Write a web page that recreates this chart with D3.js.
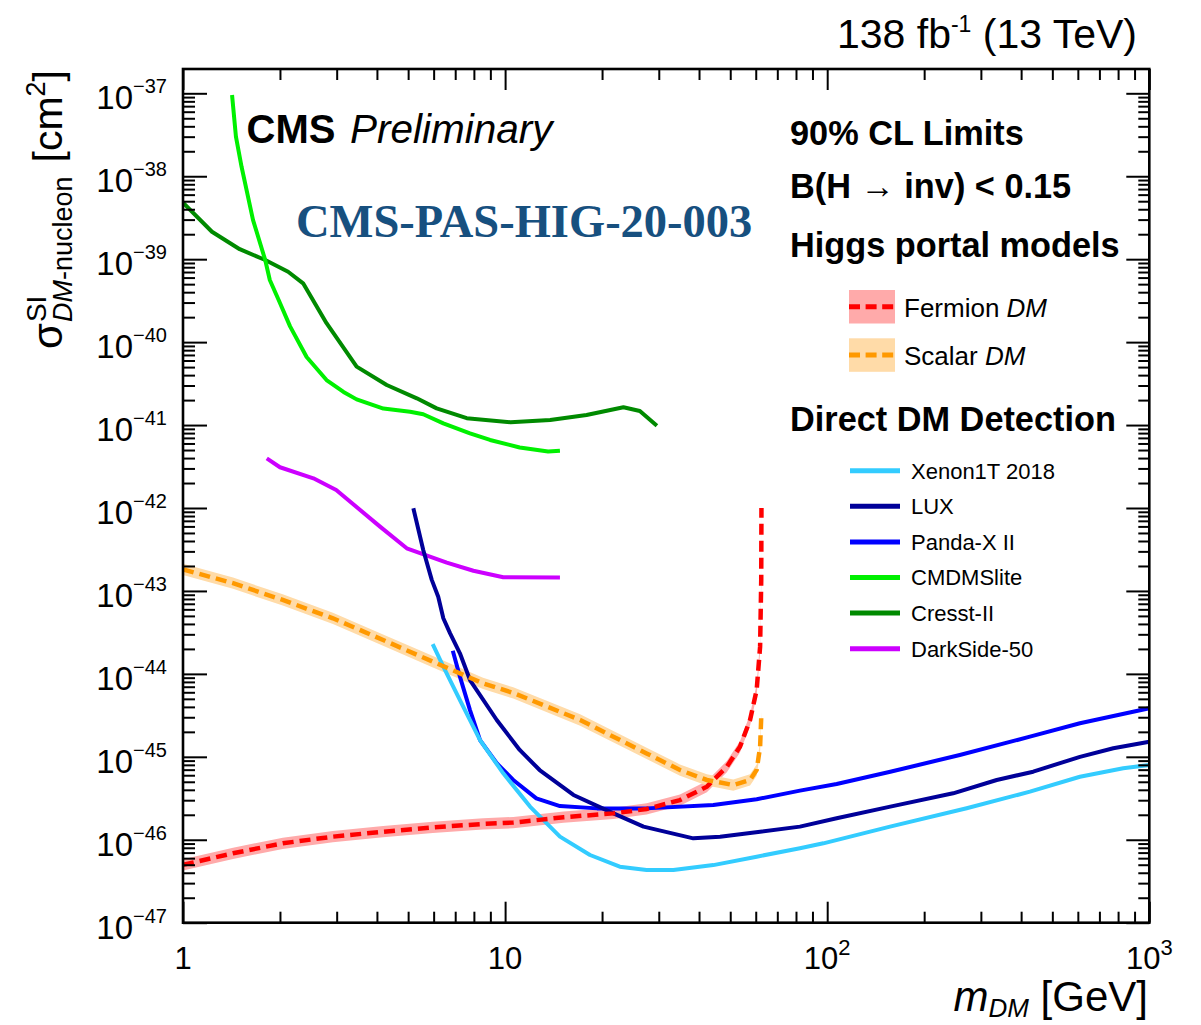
<!DOCTYPE html>
<html>
<head>
<meta charset="utf-8">
<script src="https://cdn.jsdelivr.net/npm/d3@7"></script>
<style>
  body { margin: 0; background: #fff; }
  svg { display: block; }
</style>
</head>
<body>
<svg id="chart" width="1201" height="1025"></svg>
<script>
// ---- Higgs portal limits (B(H->inv) < 0.15), spin-independent DM-nucleon cross section [cm^2]
const fermionMass  = [1.0, 1.43, 2.04, 2.92, 4.18, 5.97, 8.54, 10.6, 15.2, 21.7, 27.5, 34.9, 42.3, 48.8, 53.6, 57.6, 60.4, 61.9, 62.4, 62.5];
const fermionSigma = [4.99e-47, 6.87e-47, 9.06e-47, 1.09e-46, 1.25e-46, 1.41e-46, 1.55e-46, 1.61e-46, 1.87e-46, 2.08e-46, 2.35e-46, 3.01e-46, 4.37e-46, 7.6e-46, 1.32e-45, 2.78e-45, 6.4e-45, 2.13e-44, 1.36e-43, 1.0e-42];

const scalarMass  = [1.0, 1.43, 2.04, 2.92, 4.18, 5.97, 8.54, 10.6, 17.1, 27.5, 34.9, 42.3, 51.1, 57.6, 60.4, 61.9, 62.4];
const scalarSigma = [1.82e-43, 1.24e-43, 7.78e-44, 4.68e-44, 2.56e-44, 1.40e-44, 7.69e-45, 5.89e-45, 2.78e-45, 1.10e-45, 6.93e-46, 5.26e-46, 4.57e-46, 5.26e-46, 6.93e-46, 1.32e-45, 2.99e-45];

// ---- Direct detection limits
const xenonMass  = [5.96, 6.43, 7.24, 8.36, 9.87, 11.95, 14.8, 18.35, 22.7, 27.5, 33.3, 44.3, 60.4, 82.3, 97.3, 156.7, 271, 426, 609, 830, 1000];
const xenonSigma = [2.29e-44, 1.22e-44, 4.84e-45, 1.59e-45, 6.32e-46, 2.51e-46, 1.09e-46, 6.55e-47, 4.73e-47, 4.32e-47, 4.32e-47, 4.95e-47, 6.25e-47, 7.89e-47, 9.06e-47, 1.44e-46, 2.40e-46, 3.80e-46, 5.75e-46, 7.28e-46, 7.96e-46];

const luxMass  = [5.19, 5.57, 5.92, 6.2, 6.43, 6.75, 7.24, 7.78, 9.42, 11.1, 12.8, 16.3, 21.7, 26.9, 38.4, 46.5, 61.9, 82.3, 107, 157, 246, 336, 436, 609, 773, 1000];
const luxSigma = [9.91e-43, 3.12e-43, 1.36e-43, 8.53e-44, 4.68e-44, 3.08e-44, 1.77e-44, 8.43e-45, 2.78e-45, 1.21e-45, 6.93e-46, 3.47e-46, 2.08e-46, 1.44e-46, 1.04e-46, 1.09e-46, 1.25e-46, 1.44e-46, 1.82e-46, 2.51e-46, 3.63e-46, 5.25e-46, 6.62e-46, 1.0e-45, 1.27e-45, 1.52e-45];

const pandaMass  = [6.88, 7.24, 7.78, 8.36, 9.42, 10.6, 12.5, 14.8, 19.3, 27.5, 44.3, 60.4, 82.3, 107, 157, 258, 426, 609, 1000];
const pandaSigma = [1.90e-44, 9.25e-45, 3.66e-45, 1.59e-45, 8.36e-46, 5.26e-46, 3.16e-46, 2.55e-46, 2.39e-46, 2.39e-46, 2.62e-46, 3.08e-46, 3.91e-46, 4.70e-46, 6.62e-46, 1.05e-45, 1.75e-45, 2.54e-45, 3.85e-45];

const cdmsliteMass  = [1.42, 1.46, 1.52, 1.65, 1.80, 1.86, 1.98, 2.15, 2.42, 2.79, 3.15, 3.46, 4.19, 5.07, 5.57, 6.43, 7.78, 8.98, 11.1, 13.6, 14.8];
const cdmsliteSigma = [9.55e-38, 3.0e-38, 1.30e-38, 2.96e-39, 9.77e-40, 5.62e-40, 3.24e-40, 1.55e-40, 6.61e-41, 3.49e-41, 2.51e-41, 2.04e-41, 1.58e-41, 1.45e-41, 1.35e-41, 1.05e-41, 7.94e-42, 6.61e-42, 5.37e-42, 4.79e-42, 4.9e-42];

const cresstMass  = [1.0, 1.23, 1.50, 1.80, 2.12, 2.36, 2.79, 3.46, 4.29, 5.32, 6.13, 7.6, 10.4, 13.8, 17.9, 23.3, 26.2, 29.6];
const cresstSigma = [4.80e-39, 2.14e-39, 1.32e-39, 9.77e-40, 7.06e-40, 5.12e-40, 1.69e-40, 5.06e-41, 3.04e-41, 2.10e-41, 1.59e-41, 1.21e-41, 1.08e-41, 1.15e-41, 1.32e-41, 1.64e-41, 1.48e-41, 9.82e-42];

const darksideMass  = [1.82, 2.0, 2.54, 2.99, 4.09, 4.95, 6.59, 7.97, 9.87, 14.8];
const darksideSigma = [3.97e-42, 3.10e-42, 2.28e-42, 1.65e-42, 5.96e-43, 3.27e-43, 2.19e-43, 1.75e-43, 1.46e-43, 1.45e-43];

// ---- Legend names and axis ticks
const higgsPortalNames = ["Fermion", "Scalar"];
const directNames = ["Xenon1T 2018", "LUX", "Panda-X II", "CMDMSlite", "Cresst-II", "DarkSide-50"];
const xMajorTicks = [1, 10, 100, 1000];
const xTickLabels = [["1", ""], ["10", ""], ["10", "2"], ["10", "3"]];
const yMajorExponents = [-47, -46, -45, -44, -43, -42, -41, -40, -39, -38, -37];

// ---------------------------------------------------------------------------
const SANS = "'Liberation Sans', Arial, Helvetica, sans-serif";
const SERIF = "'Liberation Serif', 'Times New Roman', serif";

const svg = d3.select("#chart");
svg.append("rect").attr("width", 1201).attr("height", 1025).attr("fill", "#fff");

const frame = { left: 183, right: 1149.3, top: 69, bottom: 922.7 };
const x = d3.scaleLog().domain([1, 1000]).range([frame.left, frame.right]);
const y = d3.scaleLog().domain([1e-47, Math.pow(10, -36.707)]).range([frame.bottom, frame.top]);

const bandFactor = Math.pow(10, 0.068); // half-width of the theory band, in decades

const zip = (ms, ss) => ms.map((m, i) => ({ m, s: ss[i] }));

svg.append("defs").append("clipPath").attr("id", "plotclip")
  .append("rect")
  .attr("x", frame.left).attr("y", frame.top)
  .attr("width", frame.right - frame.left).attr("height", frame.bottom - frame.top);

const plot = svg.append("g").attr("clip-path", "url(#plotclip)");

const line = d3.line().x(d => x(d.m)).y(d => y(d.s));
const band = d3.area().x(d => x(d.m)).y0(d => y(d.s / bandFactor)).y1(d => y(d.s * bandFactor));

const portal = [
  { data: zip(fermionMass, fermionSigma), line: "#ff0000", band: "#ffaaaa" },
  { data: zip(scalarMass, scalarSigma),   line: "#ff9900", band: "#ffdba8" }
];

const direct = [
  { data: zip(xenonMass, xenonSigma),       color: "#33ccff" },
  { data: zip(luxMass, luxSigma),           color: "#000099" },
  { data: zip(pandaMass, pandaSigma),       color: "#0000ff" },
  { data: zip(cdmsliteMass, cdmsliteSigma), color: "#00f000" },
  { data: zip(cresstMass, cresstSigma),     color: "#008a00" },
  { data: zip(darksideMass, darksideSigma), color: "#cc00ff" }
];

// theory bands
portal.forEach(p => {
  plot.append("path").datum(p.data).attr("d", band).attr("fill", p.band);
});

// experimental limits (drawn from the last legend entry upward)
direct.slice().reverse().forEach(s => {
  plot.append("path").datum(s.data).attr("d", line)
    .attr("fill", "none").attr("stroke", s.color)
    .attr("stroke-width", 4).attr("stroke-linejoin", "round");
});

// Higgs portal central curves
portal.forEach(p => {
  plot.append("path").datum(p.data).attr("d", line)
    .attr("fill", "none").attr("stroke", p.line)
    .attr("stroke-width", 4.5).attr("stroke-dasharray", "11,6");
});

// ---- axes: ticks pointing inward on all four sides
const xMinor = [];
for (let k = 0; k < 3; k++) for (let d = 2; d <= 9; d++) xMinor.push(d * Math.pow(10, k));
const yMajor = yMajorExponents.map(e => Math.pow(10, e));
const yMinor = [];
for (let e = -47; e < -37; e++) for (let d = 2; d <= 9; d++) yMinor.push(d * Math.pow(10, e));

function drawAxis(axisGen, transform) {
  const g = svg.append("g").attr("transform", transform).call(axisGen);
  g.select(".domain").remove();
  g.selectAll(".tick line").attr("stroke", "#000").attr("stroke-width", 2);
  g.selectAll(".tick text").remove();
}
drawAxis(d3.axisBottom(x).tickValues(xMajorTicks).tickSize(-21).tickFormat(""), `translate(0,${frame.bottom})`);
drawAxis(d3.axisBottom(x).tickValues(xMinor).tickSize(-11).tickFormat(""), `translate(0,${frame.bottom})`);
drawAxis(d3.axisTop(x).tickValues(xMajorTicks).tickSize(-21).tickFormat(""), `translate(0,${frame.top})`);
drawAxis(d3.axisTop(x).tickValues(xMinor).tickSize(-11).tickFormat(""), `translate(0,${frame.top})`);
drawAxis(d3.axisLeft(y).tickValues(yMajor).tickSize(-24).tickFormat(""), `translate(${frame.left},0)`);
drawAxis(d3.axisLeft(y).tickValues(yMinor).tickSize(-12).tickFormat(""), `translate(${frame.left},0)`);
drawAxis(d3.axisRight(y).tickValues(yMajor).tickSize(-23).tickFormat(""), `translate(${frame.right},0)`);
drawAxis(d3.axisRight(y).tickValues(yMinor).tickSize(-11).tickFormat(""), `translate(${frame.right},0)`);

svg.append("rect")
  .attr("x", frame.left).attr("y", frame.top)
  .attr("width", frame.right - frame.left).attr("height", frame.bottom - frame.top)
  .attr("fill", "none").attr("stroke", "#000").attr("stroke-width", 2.6);

// y tick labels 10^n
yMajorExponents.forEach(e => {
  const t = svg.append("text")
    .attr("x", 167).attr("y", y(Math.pow(10, e)) + 16)
    .attr("text-anchor", "end").attr("font-family", SANS).attr("fill", "#000");
  t.append("tspan").attr("font-size", 33).text("10");
  t.append("tspan").attr("font-size", 20).attr("dy", -16).text("\u2212" + Math.abs(e));
});

// x tick labels
xMajorTicks.forEach((v, i) => {
  const t = svg.append("text")
    .attr("x", x(v)).attr("y", 968.5)
    .attr("text-anchor", "middle").attr("font-family", SANS).attr("fill", "#000");
  t.append("tspan").attr("font-size", 31).text(xTickLabels[i][0]);
  if (xTickLabels[i][1]) t.append("tspan").attr("font-size", 22).attr("dy", -14).text(xTickLabels[i][1]);
});

// x axis title
{
  const t = svg.append("text").attr("x", 1148).attr("y", 1011)
    .attr("text-anchor", "end").attr("font-family", SANS).attr("fill", "#000");
  t.append("tspan").attr("font-size", 42).attr("font-style", "italic").text("m");
  t.append("tspan").attr("font-size", 26).attr("font-style", "italic").attr("dy", 6).text("DM");
  t.append("tspan").attr("font-size", 42).attr("dy", -6).text("\u00a0[GeV]");
}

// y axis title: sigma with stacked super/subscript, rotated
{
  const g = svg.append("g");
  const mk = (txt, size, lx, ly) => g.append("text").attr("x", lx).attr("y", ly)
    .attr("font-size", size).attr("font-family", SANS).attr("fill", "#000").text(txt);
  const sig = mk("\u03c3", 42, 0, 0);
  const ws = sig.node().getComputedTextLength();
  const sup = mk("SI", 28, ws + 1, -16);
  const sub = g.append("text").attr("x", ws + 1).attr("y", 10).attr("font-size", 27)
    .attr("font-family", SANS).attr("fill", "#000");
  sub.append("tspan").attr("font-style", "italic").text("DM");
  sub.append("tspan").text("-nucleon");
  const wIdx = Math.max(sup.node().getComputedTextLength(), sub.node().getComputedTextLength());
  const startUnit = ws + 1 + wIdx + 14;
  const unit = g.append("text").attr("x", startUnit).attr("y", 0)
    .attr("font-family", SANS).attr("fill", "#000");
  unit.append("tspan").attr("font-size", 41).text("[cm");
  unit.append("tspan").attr("font-size", 27).attr("dy", -17).text("2");
  unit.append("tspan").attr("font-size", 41).attr("dy", 17).text("]");
  const total = startUnit + unit.node().getComputedTextLength();
  g.attr("transform", `translate(62,${70 + total}) rotate(-90)`);
}

// luminosity / energy label
{
  const t = svg.append("text").attr("x", 1137).attr("y", 48)
    .attr("text-anchor", "end").attr("font-family", SANS).attr("fill", "#000");
  t.append("tspan").attr("font-size", 41).text("138 fb");
  t.append("tspan").attr("font-size", 23).attr("dy", -16).text("-1");
  t.append("tspan").attr("font-size", 41).attr("dy", 16).text("\u00a0(13 TeV)");
}

// CMS label
svg.append("text").attr("x", 246.5).attr("y", 143).attr("font-family", SANS)
  .attr("font-size", 40).attr("font-weight", "bold").attr("fill", "#000").text("CMS");
svg.append("text").attr("x", 350).attr("y", 143).attr("font-family", SANS)
  .attr("font-size", 40.5).attr("font-style", "italic").attr("fill", "#000").text("Preliminary");

svg.append("text").attr("x", 296).attr("y", 237).attr("font-family", SERIF)
  .attr("font-size", 46.5).attr("font-weight", "bold").attr("fill", "#17507f")
  .text("CMS-PAS-HIG-20-003");

// right-hand annotations
const boldLine = (txt, yy) => svg.append("text").attr("x", 790).attr("y", yy)
  .attr("font-family", SANS).attr("font-size", 34.3).attr("font-weight", "bold")
  .attr("fill", "#000").text(txt);
boldLine("90% CL Limits", 144.5);
{
  const t = svg.append("text").attr("x", 790).attr("y", 197.5)
    .attr("font-family", SANS).attr("font-size", 34.3).attr("font-weight", "bold").attr("fill", "#000");
  t.append("tspan").text("B(H ");
  t.append("tspan").attr("font-weight", "normal").text("\u2192");
  t.append("tspan").text(" inv) < 0.15");
}
boldLine("Higgs portal models", 257);
boldLine("Direct DM Detection", 431);

// Higgs portal legend
portal.forEach((p, i) => {
  const top = 290 + i * 48.3;
  svg.append("rect").attr("x", 849).attr("y", top).attr("width", 46).attr("height", 33.5).attr("fill", p.band);
  svg.append("line").attr("x1", 849).attr("x2", 895).attr("y1", top + 16.7).attr("y2", top + 16.7)
    .attr("stroke", p.line).attr("stroke-width", 5).attr("stroke-dasharray", "11,5.6");
  const t = svg.append("text").attr("x", 904).attr("y", top + 26.7)
    .attr("font-family", SANS).attr("font-size", 26).attr("fill", "#000");
  t.append("tspan").text(higgsPortalNames[i] + " ");
  t.append("tspan").attr("font-style", "italic").text("DM");
});

// direct detection legend
direct.forEach((s, i) => {
  const yy = 470.7 + i * 35.6;
  svg.append("line").attr("x1", 850).attr("x2", 900).attr("y1", yy).attr("y2", yy)
    .attr("stroke", s.color).attr("stroke-width", 5);
  svg.append("text").attr("x", 911).attr("y", yy + 7.8)
    .attr("font-family", SANS).attr("font-size", 22).attr("fill", "#000")
    .text(directNames[i]);
});
</script>
</body>
</html>
